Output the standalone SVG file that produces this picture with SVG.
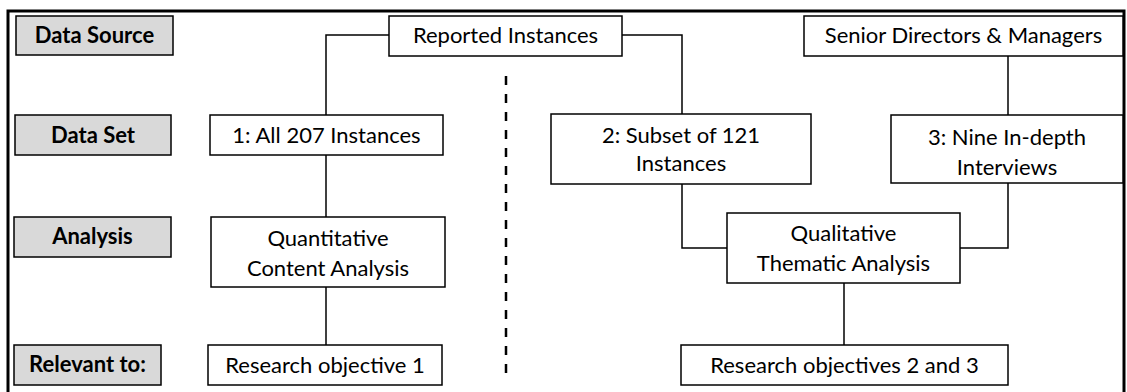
<svg xmlns="http://www.w3.org/2000/svg" width="1127" height="392" viewBox="0 0 1127 392">
  <style>
    .frame { fill: #ffffff; stroke: #000000; stroke-width: 3; }
    .label rect { fill: #d9d9d9; stroke: #000000; stroke-width: 1.5; }
    .label text { font-family: "Lato", "Liberation Sans", sans-serif; font-weight: bold; font-size: 22px; fill: #000000; text-anchor: middle; }
    .box rect { fill: #ffffff; stroke: #000000; stroke-width: 1.5; }
    .box text { font-family: "Lato", "Liberation Sans", sans-serif; font-size: 22px; fill: #000000; text-anchor: middle; }
    .conn { fill: none; stroke: #000000; stroke-width: 1.5; }
    .divider { fill: none; stroke: #000000; stroke-width: 2.5; stroke-dasharray: 9 9; }
  </style>

  <!-- outer frame -->
  <rect class="frame" x="8" y="11" width="1116" height="400"/>

  <!-- connectors -->
  <g id="connectors">
    <polyline class="conn" points="389,35 326,35 326,115"/>
    <polyline class="conn" points="622,35 682,35 682,114"/>
    <line class="conn" x1="326" y1="155" x2="326" y2="217"/>
    <line class="conn" x1="326" y1="287" x2="326" y2="345"/>
    <line class="conn" x1="1008" y1="56" x2="1008" y2="115"/>
    <polyline class="conn" points="682,184 682,248 727,248"/>
    <polyline class="conn" points="1008,183 1008,248 960,248"/>
    <line class="conn" x1="844" y1="283" x2="844" y2="345"/>
    <line class="divider" x1="506" y1="76" x2="506" y2="380"/>
  </g>

  <!-- row labels -->
  <g id="label-data-source" class="label">
    <rect x="16" y="16" width="157" height="39"/>
    <text x="94.5" y="43">Data Source</text>
  </g>
  <g id="label-data-set" class="label">
    <rect x="15" y="115" width="156" height="40"/>
    <text x="93" y="143">Data Set</text>
  </g>
  <g id="label-analysis" class="label">
    <rect x="14" y="217" width="157" height="40"/>
    <text x="92.5" y="244">Analysis</text>
  </g>
  <g id="label-relevant" class="label">
    <rect x="14" y="345" width="147" height="40"/>
    <text x="87.5" y="372">Relevant to:</text>
  </g>

  <!-- data sources -->
  <g id="reported-instances" class="box">
    <rect x="389" y="16" width="233" height="40"/>
    <text x="505.5" y="43">Reported Instances</text>
  </g>
  <g id="senior-directors" class="box">
    <rect x="804" y="16" width="319" height="40"/>
    <text x="963.5" y="43">Senior Directors &amp; Managers</text>
  </g>

  <!-- data sets -->
  <g id="set-all-207" class="box">
    <rect x="210" y="115" width="233" height="40"/>
    <text x="326.5" y="143">1: All 207 Instances</text>
  </g>
  <g id="set-subset-121" class="box">
    <rect x="551" y="114" width="260" height="70"/>
    <text x="681" y="143">2: Subset of 121</text>
    <text x="681" y="171">Instances</text>
  </g>
  <g id="set-interviews" class="box">
    <rect x="891" y="115" width="232" height="68"/>
    <text x="1007" y="145">3: Nine In-depth</text>
    <text x="1007" y="175">Interviews</text>
  </g>

  <!-- analyses -->
  <g id="quantitative" class="box">
    <rect x="211" y="217" width="234" height="70"/>
    <text x="328" y="246">Quantitative</text>
    <text x="328" y="276">Content Analysis</text>
  </g>
  <g id="qualitative" class="box">
    <rect x="727" y="213" width="233" height="70"/>
    <text x="843.5" y="241">Qualitative</text>
    <text x="843.5" y="271">Thematic Analysis</text>
  </g>

  <!-- objectives -->
  <g id="objective-1" class="box">
    <rect x="208" y="345" width="234" height="40"/>
    <text x="325" y="373">Research objective 1</text>
  </g>
  <g id="objectives-2-3" class="box">
    <rect x="681" y="345" width="327" height="40"/>
    <text x="844.5" y="373">Research objectives 2 and 3</text>
  </g>
</svg>
